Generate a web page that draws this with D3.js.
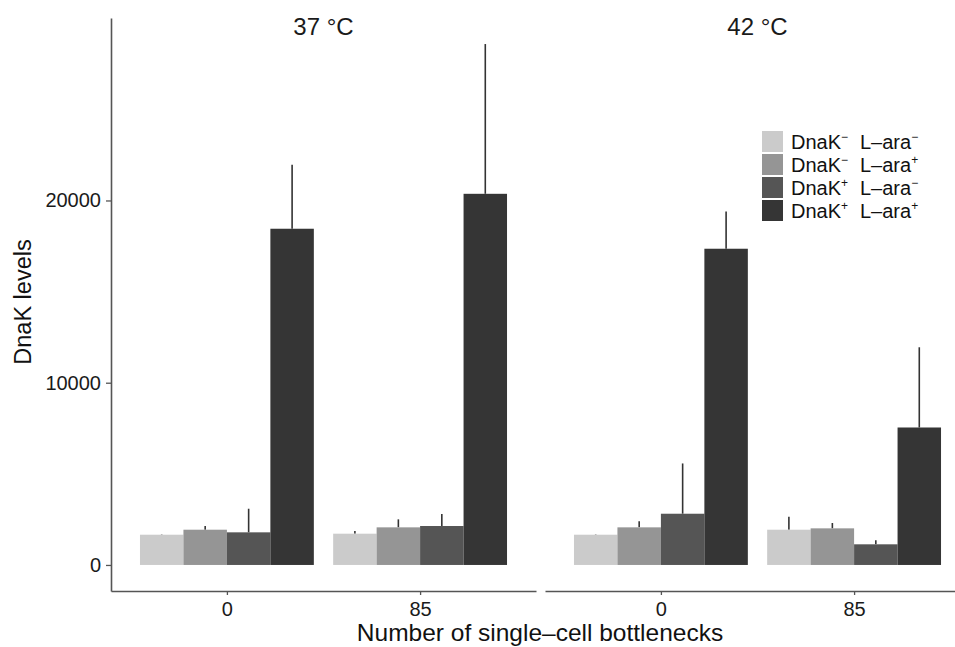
<!DOCTYPE html>
<html><head><meta charset="utf-8">
<script src="https://cdn.jsdelivr.net/npm/d3@7"></script>
<style>
body{margin:0;background:#fff;}
svg{display:block;font-family:"Liberation Sans",Arial,sans-serif;}
</style></head>
<body>
<svg id="c" width="955" height="647"></svg>
<script>
// ---- data ----
const temps = ["37 °C", "42 °C"];
const bottlenecks = ["0", "85"];
const seriesKeys = ["s1", "s2", "s3", "s4"];
const seriesDnaK = ["−", "−", "+", "+"];
const seriesAra = ["−", "+", "−", "+"];
const seriesColors = ["#cbcbcb", "#959595", "#555555", "#353535"];
// means per [temp][bottleneck][series]
const mean37_0  = [1660, 1934, 1790, 18449];
const mean37_85 = [1716, 2064, 2137, 20366];
const mean42_0  = [1660, 2064, 2811, 17352];
const mean42_85 = [1934, 2009, 1133, 7543];
// upper error (se)
const se37_0  = [20, 200, 1295, 3507];
const se37_85 = [147, 439, 658, 8218];
const se42_0  = [20, 329, 2759, 2045];
const se42_85 = [714, 292, 219, 4402];
const yTicks = [0, 10000, 20000];

const means = {"37 °C": {"0": mean37_0, "85": mean37_85}, "42 °C": {"0": mean42_0, "85": mean42_85}};
const ses = {"37 °C": {"0": se37_0, "85": se37_85}, "42 °C": {"0": se42_0, "85": se42_85}};

const svg = d3.select("#c");
const plotTop = 18, plotBottom = 591;
const y = d3.scaleLinear().domain([-1429, 30013]).range([plotBottom, plotTop]);
const panel = d3.scaleBand().domain(temps).range([111, 970]).paddingInner(9/434).paddingOuter(0);
const pw = panel.bandwidth();
const xg = d3.scalePoint().domain(bottlenecks).range([0, pw]).padding(0.6);
const step = xg.step();
const xs = d3.scaleBand().domain(seriesKeys).range([-0.45*step, 0.45*step]);
const color = d3.scaleOrdinal().domain(seriesKeys).range(seriesColors);

const axisCol = "#555";
temps.forEach(t => {
  const g = svg.append("g").attr("transform", `translate(${panel(t)},0)`);
  bottlenecks.forEach(b => {
    const gg = g.append("g").attr("transform", `translate(${xg(b)},0)`);
    seriesKeys.forEach((k, i) => {
      const v = means[t][b][i], e = ses[t][b][i];
      gg.append("line")
        .attr("x1", xs(k) + xs.bandwidth()/2).attr("x2", xs(k) + xs.bandwidth()/2)
        .attr("y1", y(v)).attr("y2", y(v + e))
        .attr("stroke", "#333").attr("stroke-width", 1.6);
    });
    seriesKeys.forEach((k, i) => {
      const v = means[t][b][i];
      gg.append("rect")
        .attr("x", xs(k)).attr("width", xs.bandwidth())
        .attr("y", y(v)).attr("height", y(0) - y(v))
        .attr("fill", color(k));
    });
  });
  // x axis
  const ax = g.append("g").attr("transform", `translate(0,${plotBottom})`)
    .call(d3.axisBottom(xg).tickSize(4).tickPadding(7).tickSizeOuter(0));
  ax.select(".domain").attr("stroke", axisCol).attr("stroke-width", 1.6);
  ax.selectAll(".tick line").attr("stroke", axisCol).attr("stroke-width", 1.3);
  ax.selectAll(".tick text").attr("font-size", 20).attr("fill", "#1a1a1a")
    .attr("font-family", "Liberation Sans, Arial, sans-serif");
  // panel title
  g.append("text").attr("x", pw/2).attr("y", 35).attr("text-anchor", "middle")
    .attr("font-size", 24).attr("fill", "#1a1a1a").text(t);
});

// y axis
const ya = svg.append("g").attr("transform", `translate(111,0)`)
  .call(d3.axisLeft(y).tickValues(yTicks).tickFormat(d3.format("d")).tickSize(5).tickPadding(5).tickSizeOuter(0));
ya.select(".domain").attr("stroke", axisCol).attr("stroke-width", 1.6);
ya.selectAll(".tick line").attr("stroke", axisCol).attr("stroke-width", 1.3);
ya.selectAll(".tick text").attr("font-size", 20).attr("fill", "#1a1a1a")
  .attr("font-family", "Liberation Sans, Arial, sans-serif");

// axis titles
svg.append("text").attr("transform", `translate(31,302) rotate(-90)`)
  .attr("text-anchor", "middle").attr("font-size", 23.5).attr("fill", "#111")
  .text("DnaK levels");
svg.append("text").attr("x", 540).attr("y", 641).attr("text-anchor", "middle")
  .attr("font-size", 24.5).attr("fill", "#111")
  .text("Number of single–cell bottlenecks");

// legend
const lg = svg.append("g").attr("transform", "translate(762,131)");
seriesKeys.forEach((k, i) => {
  const r = lg.append("g").attr("transform", `translate(0,${i*23})`);
  r.append("rect").attr("width", 21).attr("height", 21).attr("fill", color(k));
  const t1 = r.append("text").attr("x", 29).attr("y", 18).attr("font-size", 20).attr("fill", "#111");
  t1.append("tspan").text("DnaK");
  t1.append("tspan").attr("font-size", 12).attr("dy", -8).text(seriesDnaK[i]);
  const t2 = r.append("text").attr("x", 98).attr("y", 18).attr("font-size", 20).attr("fill", "#111");
  t2.append("tspan").text("L–ara");
  t2.append("tspan").attr("font-size", 12).attr("dy", -8).text(seriesAra[i]);
});
</script>
</body></html>
